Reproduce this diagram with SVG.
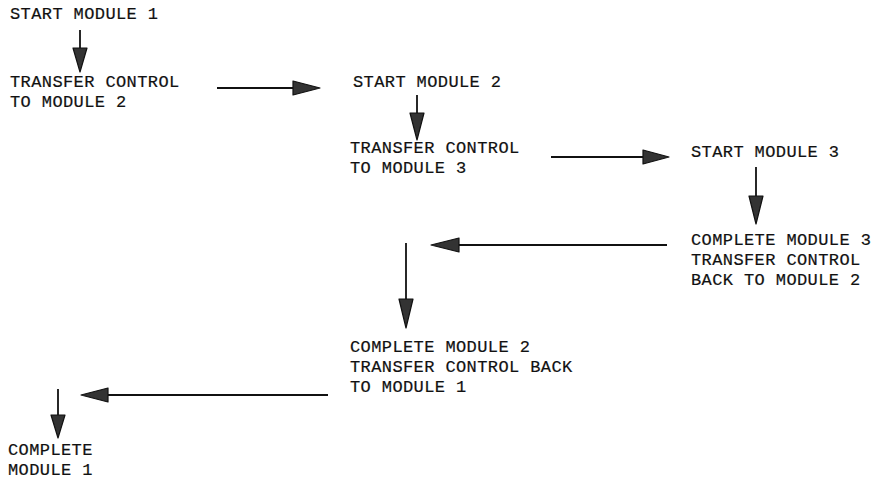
<svg xmlns="http://www.w3.org/2000/svg" width="877" height="483" viewBox="0 0 877 483">
<style>
text{font-family:"Liberation Mono","Courier New",monospace;font-size:17px;letter-spacing:0.4px;fill:#111;stroke:#111;stroke-width:0.2}
.ln{stroke:#111;stroke-width:1.8;fill:none}
.hd{fill:#333;stroke:#111;stroke-width:1.2;stroke-linejoin:round}
</style>
<rect width="877" height="483" fill="#fff"/>
<g id="n1"><text x="10" y="19">START MODULE 1</text></g>
<g id="n2"><text x="10" y="87">TRANSFER CONTROL</text><text x="10" y="107">TO MODULE 2</text></g>
<g id="n3"><text x="353" y="87">START MODULE 2</text></g>
<g id="n4"><text x="350" y="153">TRANSFER CONTROL</text><text x="350" y="173">TO MODULE 3</text></g>
<g id="n5"><text x="691" y="157">START MODULE 3</text></g>
<g id="n6"><text x="691" y="245">COMPLETE MODULE 3</text><text x="691" y="265">TRANSFER CONTROL</text><text x="691" y="285">BACK TO MODULE 2</text></g>
<g id="n7"><text x="350" y="352">COMPLETE MODULE 2</text><text x="350" y="372">TRANSFER CONTROL BACK</text><text x="350" y="392">TO MODULE 1</text></g>
<g id="n8"><text x="8" y="455">COMPLETE</text><text x="8" y="475">MODULE 1</text></g>
<g id="connectors">
<line class="ln" x1="80" y1="30" x2="80" y2="50"/><polygon class="hd" points="73,48 87,48 80,72"/>
<line class="ln" x1="217" y1="88" x2="295" y2="88"/><polygon class="hd" points="293,81 293,95 320,88"/>
<line class="ln" x1="417" y1="95" x2="417" y2="115"/><polygon class="hd" points="410,113 424,113 417,140"/>
<line class="ln" x1="551" y1="157" x2="645" y2="157"/><polygon class="hd" points="643,150 643,164 669,157"/>
<line class="ln" x1="756" y1="167" x2="756" y2="198"/><polygon class="hd" points="749,196 763,196 756,224"/>
<line class="ln" x1="667" y1="245" x2="457" y2="245"/><polygon class="hd" points="459,238 459,252 431,245"/>
<line class="ln" x1="406" y1="243" x2="406" y2="301"/><polygon class="hd" points="399,299 413,299 406,328"/>
<line class="ln" x1="328" y1="395" x2="106" y2="395"/><polygon class="hd" points="108,388 108,402 81,395"/>
<line class="ln" x1="58" y1="389" x2="58" y2="417"/><polygon class="hd" points="51,415 65,415 58,438"/>
</g>
</svg>
